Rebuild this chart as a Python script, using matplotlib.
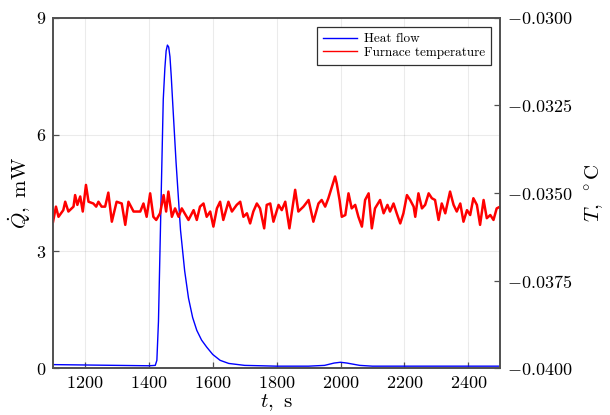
import numpy as np
import matplotlib
matplotlib.use("Agg")
import matplotlib.pyplot as plt
from matplotlib.ticker import FuncFormatter

plt.rcParams['font.family'] = 'serif'
plt.rcParams['font.serif'] = ['cmr10', 'DejaVu Serif']
plt.rcParams['mathtext.fontset'] = 'cm'
plt.rcParams['axes.unicode_minus'] = False

# ---- heat flow (mW) ----
t_q = [1100, 1200, 1300, 1400, 1420, 1425, 1430, 1436, 1445, 1450, 1454, 1458,
       1462, 1466, 1470, 1474, 1485, 1499, 1512, 1524, 1537, 1550, 1565, 1581,
       1600, 1623, 1650, 1700, 1800, 1900, 1950, 1980, 2000, 2020, 2060, 2100,
       2200, 2300, 2400, 2500]
heat_flow = [0.09, 0.08, 0.07, 0.06, 0.07, 0.2, 1.2, 3.5, 6.9, 7.7, 8.15, 8.3,
             8.25, 8.0, 7.5, 6.9, 5.3, 3.55, 2.5, 1.8, 1.3, 0.97, 0.72, 0.54,
             0.35, 0.2, 0.12, 0.07, 0.05, 0.05, 0.07, 0.13, 0.15, 0.13, 0.07,
             0.05, 0.05, 0.05, 0.05, 0.05]

# ---- furnace temperature (mC) ----
t_T = [1100, 1109, 1117, 1132, 1138, 1148, 1164, 1169, 1176, 1185, 1193, 1203,
       1211, 1226, 1235, 1242, 1252, 1263, 1273, 1284, 1299, 1315, 1326, 1336,
       1352, 1373, 1383, 1393, 1404, 1414, 1423, 1435, 1446, 1454, 1461, 1472,
       1482, 1493, 1503, 1524, 1540, 1550, 1560, 1571, 1581, 1592, 1602, 1613,
       1623, 1633, 1649, 1660, 1675, 1686, 1696, 1707, 1717, 1727, 1738, 1748,
       1761, 1769, 1780, 1790, 1806, 1816, 1827, 1840, 1858, 1868, 1884, 1900,
       1915, 1931, 1941, 1952, 1962, 1983, 1988, 1997, 2004, 2015, 2025, 2035,
       2046, 2056, 2067, 2077, 2088, 2098, 2108, 2124, 2135, 2147, 2155, 2166,
       2176, 2187, 2197, 2208, 2218, 2229, 2234, 2244, 2255, 2265, 2276, 2286,
       2296, 2307, 2317, 2328, 2343, 2354, 2364, 2375, 2385, 2396, 2406, 2416,
       2427, 2437, 2448, 2458, 2469, 2479, 2489, 2500]
temp_mC = [-35.82, -35.39, -35.68, -35.49, -35.25, -35.53, -35.39, -35.06, -35.34, -35.10, -35.53, -34.77,
           -35.25, -35.30, -35.39, -35.25, -35.39, -35.39, -34.99, -35.82, -35.25, -35.30, -35.91, -35.25,
           -35.53, -35.53, -35.30, -35.68, -35.01, -35.68, -35.77, -35.58, -35.06, -35.53, -34.96, -35.68,
           -35.44, -35.68, -35.44, -35.77, -35.49, -35.77, -35.39, -35.30, -35.68, -35.53, -35.96, -35.44,
           -35.25, -35.77, -35.25, -35.53, -35.34, -35.25, -35.68, -35.58, -35.87, -35.53, -35.30, -35.44,
           -36.01, -35.34, -35.30, -35.82, -35.34, -35.49, -35.25, -36.01, -34.91, -35.53, -35.39, -35.20,
           -35.82, -35.30, -35.20, -35.39, -35.15, -34.53, -34.72, -35.20, -35.68, -35.63, -35.01, -35.44,
           -35.34, -35.68, -35.96, -35.20, -35.01, -36.01, -35.44, -35.20, -35.58, -35.34, -35.53, -35.30,
           -35.58, -35.87, -35.58, -35.06, -35.20, -35.39, -35.68, -35.01, -35.44, -35.34, -35.01, -35.15,
           -35.20, -35.77, -35.30, -35.58, -34.96, -35.34, -35.53, -35.30, -35.82, -35.49, -35.63, -35.15,
           -35.34, -35.91, -35.20, -35.72, -35.63, -35.77, -35.44, -35.39]

x_ticks = [1200, 1400, 1600, 1800, 2000, 2200, 2400]
q_ticks = [0, 3, 6, 9]
T_ticks = [-0.0400, -0.0375, -0.0350, -0.0325, -0.0300]

spine_col = '#505050'

fig = plt.figure(figsize=(6.1, 4.15), dpi=100)
ax = fig.add_axes([0.087, 0.113, 0.733, 0.844])
ax2 = ax.twinx()

l1, = ax.plot(t_q, heat_flow, color='#0000ff', lw=1.0, label='Heat flow')
l2, = ax2.plot(t_T, np.array(temp_mC) / 1000, color='#ff0000', lw=1.8,
               label='Furnace temperature')

ax.set_xlim(1100, 2500)
ax.set_ylim(0, 9)
ax2.set_ylim(-0.04, -0.03)

ax.set_xticks(x_ticks)
ax.set_yticks(q_ticks)
ax2.set_yticks(T_ticks)
ax.xaxis.set_major_formatter(FuncFormatter(lambda v, p: f'${v:.0f}$'))
ax.yaxis.set_major_formatter(FuncFormatter(lambda v, p: f'${v:.0f}$'))
ax2.yaxis.set_major_formatter(FuncFormatter(lambda v, p: f'${v:.4f}$'))

ax.grid(True, color='#000000', alpha=0.08, lw=0.8)
for a in (ax, ax2):
    a.tick_params(direction='in', length=4, width=0.9, color=spine_col,
                  labelsize=13, pad=5)
    for s in a.spines.values():
        s.set_color(spine_col)
        s.set_linewidth(1.2)

ax.set_xlabel(r'$t,\ \mathrm{s}$', fontsize=15, labelpad=1)
ax.set_ylabel(r'$\dot{Q},\ \mathrm{mW}$', fontsize=15, labelpad=2)
ax2.set_ylabel(r'$T,\ ^\circ\mathrm{C}$', fontsize=15, labelpad=8, rotation=90)

leg = ax2.legend(handles=[l1, l2], loc='upper right', fontsize=9.5,
                 fancybox=False, framealpha=1, edgecolor='#303030',
                 borderaxespad=0.7, handlelength=2.6, borderpad=0.45,
                 labelspacing=0.1, handletextpad=0.5)
leg.get_frame().set_linewidth(0.9)
for h in leg.get_lines():
    h.set_linewidth(1.0)

fig.savefig('out.png', dpi=100)
